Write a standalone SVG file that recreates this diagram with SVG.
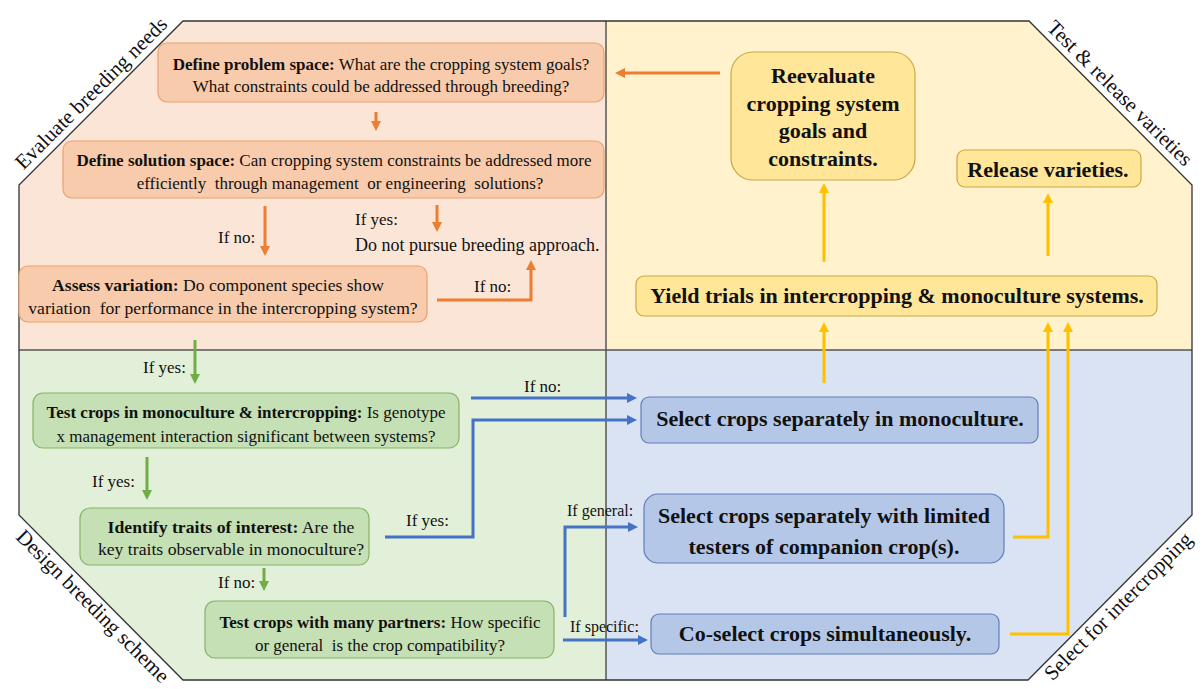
<svg xmlns="http://www.w3.org/2000/svg" width="1203" height="689" viewBox="0 0 1203 689">
<style>
.t{font-family:"Liberation Serif","Times New Roman",serif;font-size:17px;fill:#111}
.b{font-weight:bold}
.big{font-family:"Liberation Serif","Times New Roman",serif;font-size:22px;font-weight:bold;fill:#111}
.corner{font-family:"Liberation Serif","Times New Roman",serif;font-size:21px;fill:#111}
.ob{fill:#F8CBAD;stroke:#EBA06E;stroke-width:1.2}
.gb{fill:#C5E0B4;stroke:#86B467;stroke-width:1.2}
.bb{fill:#B4C7E7;stroke:#5F7FB8;stroke-width:1.2}
.yb{fill:#FFE699;stroke:#C8A846;stroke-width:1.2}
.ao{fill:none;stroke:#ED7D31;stroke-width:3}
.ag{fill:none;stroke:#70AD47;stroke-width:3}
.ab{fill:none;stroke:#4472C4;stroke-width:3}
.ay{fill:none;stroke:#FFC000;stroke-width:3}
</style>
<defs>
<clipPath id="oct"><polygon points="183,21 1029,21 1192,185 1192,515 1028,680 183,680 19,515 19,185"/></clipPath>
<marker id="mo" viewBox="0 0 10 10" refX="2" refY="5" markerWidth="10" markerHeight="10" markerUnits="userSpaceOnUse" orient="auto"><path d="M0,0 L10,5 L0,10 z" fill="#ED7D31"/></marker>
<marker id="mg" viewBox="0 0 10 10" refX="2" refY="5" markerWidth="10" markerHeight="10" markerUnits="userSpaceOnUse" orient="auto"><path d="M0,0 L10,5 L0,10 z" fill="#70AD47"/></marker>
<marker id="mb" viewBox="0 0 10 10" refX="2" refY="5" markerWidth="10" markerHeight="10" markerUnits="userSpaceOnUse" orient="auto"><path d="M0,0 L10,5 L0,10 z" fill="#4472C4"/></marker>
<marker id="my" viewBox="0 0 10 10" refX="2" refY="5" markerWidth="10" markerHeight="10" markerUnits="userSpaceOnUse" orient="auto"><path d="M0,0 L10,5 L0,10 z" fill="#FFC000"/></marker>
</defs>
<rect width="1203" height="689" fill="#fff"/>
<g id="background" clip-path="url(#oct)">
<rect x="0" y="0" width="606" height="350" fill="#FBE5D6"/>
<rect x="606" y="0" width="597" height="350" fill="#FFF2CC"/>
<rect x="0" y="350" width="606" height="339" fill="#E2F0D9"/>
<rect x="606" y="350" width="597" height="339" fill="#DAE3F3"/>
<line x1="606" y1="0" x2="606" y2="689" stroke="#555" stroke-width="1.5"/>
<line x1="0" y1="350" x2="1203" y2="350" stroke="#555" stroke-width="1.5"/>
</g>
<polygon points="183,21 1029,21 1192,185 1192,515 1028,680 183,680 19,515 19,185" fill="none" stroke="#333" stroke-width="1.3"/>
<g id="corner-labels">
<text class="corner" text-anchor="middle" transform="translate(96,98) rotate(-45)">Evaluate breeding needs</text>
<text class="corner" text-anchor="middle" transform="translate(1115,98) rotate(45)">Test &amp; release varieties</text>
<text class="corner" text-anchor="middle" transform="translate(88,611) rotate(45)">Design breeding scheme</text>
<text class="corner" text-anchor="middle" transform="translate(1123,611) rotate(-45)">Select for intercropping</text>
</g>
<g id="connectors">
<path class="ao" d="M376,112 V123" marker-end="url(#mo)"/>
<path class="ao" d="M265,206 V248" marker-end="url(#mo)"/>
<path class="ao" d="M437,205 V224" marker-end="url(#mo)"/>
<path class="ao" d="M437,300 H531 V268" marker-end="url(#mo)"/>
<path class="ao" d="M720,73 H623" marker-end="url(#mo)"/>
<path class="ag" d="M195,340 V376" marker-end="url(#mg)"/>
<path class="ag" d="M147,457 V492" marker-end="url(#mg)"/>
<path class="ag" d="M264,568 V583" marker-end="url(#mg)"/>
<path class="ab" d="M471,398 H629" marker-end="url(#mb)"/>
<path class="ab" d="M385,537 H473 V420 H629" marker-end="url(#mb)"/>
<path class="ab" d="M565,617 V527 H630" marker-end="url(#mb)"/>
<path class="ab" d="M563,640 H640" marker-end="url(#mb)"/>
<path class="ay" d="M824,262 V191" marker-end="url(#my)"/>
<path class="ay" d="M1048,256 V201" marker-end="url(#my)"/>
<path class="ay" d="M824,383 V330" marker-end="url(#my)"/>
<path class="ay" d="M1013,537 H1048 V330" marker-end="url(#my)"/>
<path class="ay" d="M1010,634 H1068 V330" marker-end="url(#my)"/>
</g>
<g id="labels">
<text class="t" x="218" y="243">If no:</text>
<text class="t" x="355" y="225">If yes:</text>
<text class="t" x="355" y="251" style="font-size:18px">Do not pursue breeding approach.</text>
<text class="t" x="474" y="292">If no:</text>
<text class="t" x="143" y="373">If yes:</text>
<text class="t" x="524" y="392">If no:</text>
<text class="t" x="92" y="487">If yes:</text>
<text class="t" x="406" y="526">If yes:</text>
<text class="t" x="218" y="588">If no:</text>
<text class="t" x="567" y="516" style="font-size:16px">If general:</text>
<text class="t" x="570" y="632" style="font-size:16px">If specific:</text>
</g>
<g id="problem-space">
<rect class="ob" x="158" y="43" width="446" height="59" rx="9"/>
<text class="t" text-anchor="middle" x="381" y="70"><tspan class="b">Define problem space:</tspan> What are the cropping system goals?</text>
<text class="t" text-anchor="middle" x="381" y="92">What constraints could be addressed through breeding?</text>
</g>
<g id="solution-space">
<rect class="ob" x="63" y="141" width="541" height="57" rx="9"/>
<text class="t" text-anchor="middle" x="334" y="166"><tspan class="b">Define solution space:</tspan> Can cropping system constraints be addressed more</text>
<text class="t" text-anchor="middle" x="340" y="189" xml:space="preserve">efficiently  through management  or engineering  solutions?</text>
</g>
<g id="assess-variation">
<rect class="ob" x="19" y="266" width="408" height="56" rx="9"/>
<text class="t" text-anchor="middle" x="218" y="291" style="font-size:17.6px"><tspan class="b">Assess variation:</tspan> Do component species show</text>
<text class="t" text-anchor="middle" x="223" y="314" style="font-size:17.6px" xml:space="preserve">variation  for performance in the intercropping system?</text>
</g>
<g id="test-mono-inter">
<rect class="gb" x="33" y="393" width="426" height="55" rx="10"/>
<text class="t" text-anchor="middle" x="246" y="418"><tspan class="b">Test crops in monoculture &amp; intercropping:</tspan> Is genotype</text>
<text class="t" text-anchor="middle" x="246" y="442">x management interaction significant between systems?</text>
</g>
<g id="identify-traits">
<rect class="gb" x="80" y="508" width="289" height="57" rx="10"/>
<text class="t" text-anchor="middle" x="231" y="533" style="font-size:17.7px"><tspan class="b">Identify traits of interest:</tspan> Are the</text>
<text class="t" text-anchor="middle" x="231" y="555" style="font-size:17.7px">key traits observable in monoculture?</text>
</g>
<g id="many-partners">
<rect class="gb" x="205" y="601" width="349" height="57" rx="10"/>
<text class="t" text-anchor="middle" x="380" y="628"><tspan class="b">Test crops with many partners:</tspan> How specific</text>
<text class="t" text-anchor="middle" x="380" y="651" xml:space="preserve">or general  is the crop compatibility?</text>
</g>
<g id="reevaluate">
<rect class="yb" x="731" y="52" width="184" height="128" rx="22"/>
<text class="big" text-anchor="middle" x="823" y="83">Reevaluate</text>
<text class="big" text-anchor="middle" x="823" y="110.5">cropping system</text>
<text class="big" text-anchor="middle" x="823" y="138">goals and</text>
<text class="big" text-anchor="middle" x="823" y="165.5">constraints.</text>
</g>
<g id="release">
<rect class="yb" x="957" y="150" width="184" height="37" rx="8"/>
<text class="big" text-anchor="middle" x="1048" y="177">Release varieties.</text>
</g>
<g id="yield-trials">
<rect class="yb" x="636" y="276" width="521" height="40" rx="8"/>
<text class="big" text-anchor="middle" x="897" y="303">Yield trials in intercropping &amp; monoculture systems.</text>
</g>
<g id="select-mono">
<rect class="bb" x="641" y="397" width="397" height="46" rx="8"/>
<text class="big" text-anchor="middle" x="840" y="426">Select crops separately in monoculture.</text>
</g>
<g id="select-limited">
<rect class="bb" x="644" y="494" width="360" height="69" rx="14"/>
<text class="big" text-anchor="middle" x="824" y="523">Select crops separately with limited</text>
<text class="big" text-anchor="middle" x="824" y="554">testers of companion crop(s).</text>
</g>
<g id="co-select">
<rect class="bb" x="651" y="614" width="348" height="40" rx="8"/>
<text class="big" text-anchor="middle" x="825" y="641">Co-select crops simultaneously.</text>
</g>
</svg>
